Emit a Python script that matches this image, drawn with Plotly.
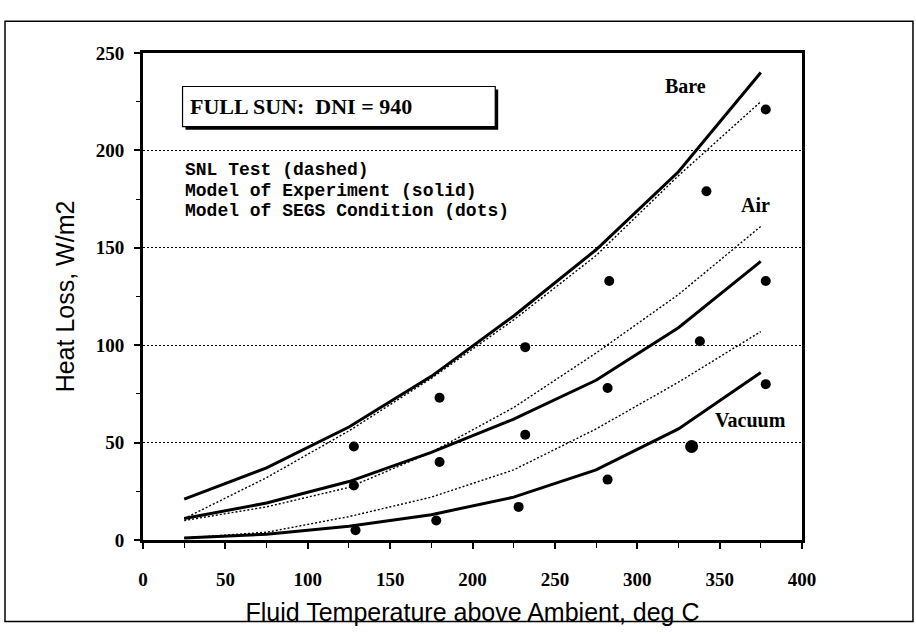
import plotly.graph_objects as go

# Fluid temperature above ambient (deg C) for the model / test curves
temp_model = [25, 75, 125, 175, 225, 275, 325, 375]

# Heat loss, W/m2 — model of experiment (solid)
bare_model = [21, 37, 58, 84, 115, 149, 189, 240]
air_model = [11, 19, 30, 45, 62, 82, 109, 143]
vacuum_model = [1, 3, 7, 13, 22, 36, 57, 86]

# Heat loss, W/m2 — SNL test (dashed)
bare_test = [11, 32, 56, 83, 113, 146, 187, 225]
air_test = [10, 17, 27, 45, 68, 96, 126, 161]
vacuum_test = [1, 4, 12, 22, 36, 57, 81, 107]

# Model of SEGS condition (dots)
bare_segs_t = [128, 180, 232, 283, 342, 378]
bare_segs = [48, 73, 99, 133, 179, 221]
air_segs_t = [128, 180, 232, 282, 338, 378]
air_segs = [28, 40, 54, 78, 102, 133]
vacuum_segs_t = [129, 178, 228, 282, 333, 378]
vacuum_segs = [5, 10, 17, 31, 48, 80]

x_ticks = [0, 50, 100, 150, 200, 250, 300, 350, 400]
y_ticks = [0, 50, 100, 150, 200, 250]

fig = go.Figure()

for ys in (bare_test, air_test, vacuum_test):
    fig.add_trace(go.Scatter(x=temp_model, y=ys, mode="lines",
                             line=dict(color="black", width=1.4, dash="2px,2px"),
                             hoverinfo="skip"))

for ys in (bare_model, air_model, vacuum_model):
    fig.add_trace(go.Scatter(x=temp_model, y=ys, mode="lines",
                             line=dict(color="black", width=3),
                             hoverinfo="skip"))

for xs, ys in ((bare_segs_t, bare_segs), (air_segs_t, air_segs), (vacuum_segs_t, vacuum_segs)):
    sizes = [10] * len(xs)
    if ys is vacuum_segs:
        sizes[4] = 13
    fig.add_trace(go.Scatter(x=xs, y=ys, mode="markers",
                             marker=dict(color="black", size=sizes, opacity=1,
                                         line=dict(width=0)),
                             hoverinfo="skip"))

serif_bold = dict(family="Liberation Serif", size=20, color="black", weight="bold")
mono_bold = dict(family="Liberation Mono", size=18, color="black", weight="bold")

annotations = [
    dict(x=329.5, y=233, text="Bare", font=serif_bold),
    dict(x=371.5, y=172, text="Air", font=serif_bold),
    dict(x=368.5, y=61.5, text="Vacuum", font=serif_bold),
    dict(x=27.5, y=222.5, text="FULL SUN:\u00a0\u00a0DNI\u00a0=\u00a0940", xanchor="left",
         font=dict(family="Liberation Serif", size=22, color="black", weight="bold")),
    dict(x=24.5, y=189.8, text="SNL Test (dashed)", xanchor="left", font=mono_bold),
    dict(x=24.5, y=179.3, text="Model of Experiment (solid)", xanchor="left", font=mono_bold),
    dict(x=24.5, y=168.8, text="Model of SEGS Condition (dots)", xanchor="left", font=mono_bold),
]
for a in annotations:
    a.update(xref="x", yref="y", showarrow=False)

shapes = [
    # outer frame around the whole figure
    dict(type="rect", xref="paper", yref="paper", x0=-0.2094, x1=1.1684, y0=-0.1673, y1=1.0653,
         line=dict(color="black", width=1.5), fillcolor="rgba(0,0,0,0)", layer="below"),
    # drop shadow and box of the DNI label
    dict(type="rect", xref="x", yref="y", x0=25.8, x1=215.6, y0=210.6, y1=231.3,
         line=dict(width=0), fillcolor="black", layer="above"),
    dict(type="rect", xref="x", yref="y", x0=24, x1=213.8, y0=212.2, y1=232.8,
         line=dict(color="black", width=1.2), fillcolor="white", layer="above"),
]

fig.update_layout(
    width=916, height=634,
    margin=dict(l=143, r=114, t=53, b=91),
    paper_bgcolor="white", plot_bgcolor="white",
    showlegend=False,
    annotations=annotations,
    shapes=shapes,
    xaxis=dict(
        range=[0, 400], tickvals=x_ticks, ticktext=[str(v) for v in x_ticks],
        showgrid=False, zeroline=False,
        showline=True, linewidth=3, linecolor="black", mirror=True,
        ticks="outside", ticklen=6, tickwidth=1.5, tickcolor="black",
        minor=dict(dtick=25, ticks="outside", ticklen=5, tickwidth=1, tickcolor="black"),
        tickfont=dict(family="Liberation Serif", size=19, color="black", weight="bold"),
        ticklabelstandoff=14,
        title=dict(text="Fluid Temperature above Ambient, deg C",
                   font=dict(family="Liberation Sans", size=25, color="black"), standoff=15),
    ),
    yaxis=dict(
        range=[0, 250], tickvals=y_ticks, ticktext=[str(v) for v in y_ticks],
        showgrid=True, gridcolor="black", gridwidth=1, griddash="2px,2px", zeroline=False,
        showline=True, linewidth=3, linecolor="black", mirror=True,
        ticks="outside", ticklen=6, tickwidth=1.5, tickcolor="black",
        minor=dict(dtick=25, ticks="outside", ticklen=4, tickwidth=1, tickcolor="black", showgrid=False),
        tickfont=dict(family="Liberation Serif", size=19, color="black", weight="bold"),
        ticklabelstandoff=6,
        title=dict(text="Heat Loss, W/m2",
                   font=dict(family="Liberation Sans", size=25, color="black"), standoff=14),
    ),
)

fig.write_html("out.html")
